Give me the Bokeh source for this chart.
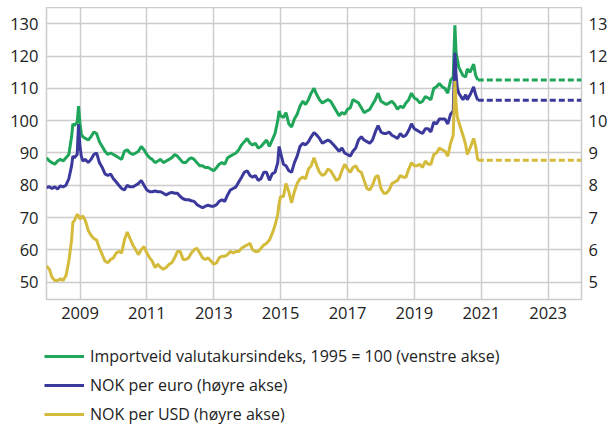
import pandas as pd
from bokeh.plotting import figure
from bokeh.layouts import column
from bokeh.models import (Range1d, LinearAxis, FixedTicker, DatetimeTickFormatter,
                          Legend, LegendItem)
from bokeh.embed import file_html
from bokeh.resources import INLINE

# ---------------- data ----------------
dates = [
    "2008-01-01", "2008-02-01", "2008-03-01", "2008-04-01", "2008-05-01", "2008-06-01",
    "2008-07-01", "2008-08-01", "2008-09-01", "2008-10-01", "2008-10-15", "2008-11-01",
    "2008-12-01", "2008-12-16",
    "2009-01-01", "2009-01-15", "2009-02-01", "2009-03-01", "2009-04-01", "2009-05-01",
    "2009-06-01", "2009-07-01", "2009-08-01", "2009-09-01", "2009-10-01", "2009-11-01",
    "2009-12-01",
    "2010-01-01", "2010-02-01", "2010-03-01", "2010-04-01", "2010-05-01", "2010-06-01",
    "2010-07-01", "2010-08-01", "2010-09-01", "2010-10-01", "2010-11-01", "2010-12-01",
    "2011-01-01", "2011-02-01", "2011-03-01", "2011-04-01", "2011-05-01", "2011-06-01",
    "2011-07-01", "2011-08-01", "2011-09-01", "2011-10-01", "2011-11-01", "2011-12-01",
    "2012-01-01", "2012-02-01", "2012-03-01", "2012-04-01", "2012-05-01", "2012-06-01",
    "2012-07-01", "2012-08-01", "2012-09-01", "2012-10-01", "2012-11-01", "2012-12-01",
    "2013-01-01", "2013-02-01", "2013-03-01", "2013-04-01", "2013-05-01", "2013-06-01",
    "2013-07-01", "2013-08-01", "2013-09-01", "2013-10-01", "2013-11-01", "2013-12-01",
    "2014-01-01", "2014-02-01", "2014-03-01", "2014-04-01", "2014-05-01", "2014-06-01",
    "2014-07-01", "2014-08-01", "2014-09-01", "2014-10-01", "2014-11-01", "2014-12-01",
    "2014-12-16",
    "2015-01-01", "2015-02-01", "2015-03-01", "2015-04-01", "2015-05-01", "2015-06-01",
    "2015-07-01", "2015-08-01", "2015-09-01", "2015-10-01", "2015-11-01", "2015-12-01",
    "2016-01-01", "2016-02-01", "2016-03-01", "2016-04-01", "2016-05-01", "2016-06-01",
    "2016-07-01", "2016-08-01", "2016-09-01", "2016-10-01", "2016-11-01", "2016-12-01",
    "2017-01-01", "2017-02-01", "2017-03-01", "2017-04-01", "2017-05-01", "2017-06-01",
    "2017-07-01", "2017-08-01", "2017-09-01", "2017-10-01", "2017-11-01", "2017-12-01",
    "2018-01-01", "2018-02-01", "2018-03-01", "2018-04-01", "2018-05-01", "2018-06-01",
    "2018-07-01", "2018-08-01", "2018-09-01", "2018-10-01", "2018-11-01", "2018-12-01",
    "2019-01-01", "2019-02-01", "2019-03-01", "2019-04-01", "2019-05-01", "2019-06-01",
    "2019-07-01", "2019-08-01", "2019-09-01", "2019-10-01", "2019-11-01", "2019-12-01",
    "2020-01-01", "2020-02-01", "2020-03-01", "2020-03-19", "2020-04-01", "2020-04-15",
    "2020-05-01", "2020-06-15", "2020-07-15", "2020-08-01", "2020-09-01", "2020-10-10",
    "2020-11-01", "2020-11-24",
]

# Importveid valutakursindeks (1995 = 100), left axis
importveid = [
    88.5, 87.5, 87.0, 86.5, 87.5, 88.0, 87.5, 88.5, 89.5, 95.0, 99.0, 98.5, 99.5, 104.5,
    99.0, 96.0, 95.0, 94.5, 94.0, 95.0, 96.5, 96.0, 93.5, 92.0, 90.5, 89.5, 90.0,
    89.5, 89.0, 88.5, 88.0, 90.5, 91.0, 90.0, 89.5, 90.0, 90.5, 92.0, 91.0,
    89.5, 88.5, 88.0, 87.0, 87.5, 88.0, 87.0, 87.5, 88.0, 88.5, 89.5, 89.0,
    88.0, 87.0, 87.0, 88.0, 88.5, 88.0, 87.0, 86.0, 86.0, 85.5, 85.5, 85.0,
    84.5, 85.5, 86.5, 87.0, 86.5, 88.5, 89.0, 89.5, 90.0, 91.0, 92.5, 93.5,
    94.5, 93.0, 92.5, 93.0, 91.5, 92.0, 93.0, 94.0, 92.0, 94.0, 96.0, 100.0, 103.0,
    101.5, 101.0, 102.5, 99.0, 98.0, 100.5, 102.0, 104.5, 106.0, 105.0, 106.5, 108.5,
    110.0, 108.0, 106.5, 105.5, 106.0, 106.5, 106.0, 104.5, 103.0, 101.5, 102.5, 102.0,
    103.5, 104.0, 106.5, 106.0, 105.5, 104.0, 102.5, 103.0, 103.5, 105.0, 106.5, 108.5,
    106.0, 105.5, 105.0, 105.5, 106.0, 105.0, 103.5, 104.5, 104.0, 105.5, 106.5, 108.5,
    107.0, 106.5, 105.5, 106.0, 107.5, 107.0, 106.5, 110.0, 110.5, 111.5, 110.5, 110.0,
    108.5, 112.5, 113.5, 129.5, 121.0, 119.0, 116.5, 114.0, 113.5, 116.0, 115.0, 117.5,
    114.0, 112.6,
]

# NOK per euro, right axis
nok_eur = [
    7.93, 7.95, 7.90, 7.95, 7.88, 7.98, 7.95, 8.00, 8.20, 8.60, 8.90, 8.85, 8.95, 9.89,
    9.20, 8.90, 8.75, 8.80, 8.70, 8.80, 8.95, 9.00, 8.70, 8.55, 8.35, 8.30, 8.35,
    8.20, 8.10, 8.00, 7.90, 7.85, 8.00, 7.95, 7.95, 8.00, 8.05, 8.15, 8.00,
    7.85, 7.80, 7.80, 7.82, 7.80, 7.80, 7.75, 7.70, 7.75, 7.78, 7.75, 7.75,
    7.65, 7.58, 7.55, 7.55, 7.52, 7.50, 7.40, 7.35, 7.30, 7.35, 7.38, 7.35,
    7.35, 7.40, 7.50, 7.55, 7.50, 7.70, 7.85, 7.90, 7.95, 8.10, 8.25, 8.40,
    8.45, 8.30, 8.25, 8.30, 8.15, 8.20, 8.40, 8.40, 8.15, 8.35, 8.40, 8.70, 9.20,
    9.00, 8.65, 8.60, 8.45, 8.40, 8.70, 8.90, 9.20, 9.30, 9.25, 9.35, 9.50,
    9.63, 9.55, 9.45, 9.30, 9.35, 9.40, 9.35, 9.25, 9.15, 9.05, 9.15, 9.00,
    8.95, 8.90, 9.05, 9.15, 9.40, 9.50, 9.40, 9.35, 9.30, 9.40, 9.65, 9.85,
    9.65, 9.60, 9.60, 9.65, 9.55, 9.50, 9.45, 9.60, 9.50, 9.55, 9.70, 9.90,
    9.75, 9.70, 9.65, 9.60, 9.75, 9.75, 9.65, 9.95, 9.90, 10.05, 10.05, 10.05,
    9.90, 10.20, 10.30, 12.10, 11.40, 11.00, 10.85, 10.65, 10.80, 10.65, 10.80, 11.05,
    10.80, 10.63,
]

# NOK per USD, right axis
nok_usd = [
    5.50, 5.40, 5.15, 5.05, 5.05, 5.10, 5.05, 5.20, 5.65, 6.30, 6.85, 6.90, 7.10, 7.05,
    6.95, 7.00, 7.05, 6.90, 6.60, 6.45, 6.35, 6.30, 6.05, 5.85, 5.65, 5.60, 5.70,
    5.75, 5.90, 5.95, 5.90, 6.30, 6.55, 6.35, 6.15, 6.00, 5.85, 6.00, 6.10,
    5.90, 5.75, 5.65, 5.45, 5.55, 5.45, 5.40, 5.45, 5.55, 5.60, 5.75, 5.95,
    5.95, 5.70, 5.70, 5.75, 5.90, 6.00, 6.05, 5.90, 5.75, 5.70, 5.75, 5.65,
    5.55, 5.60, 5.75, 5.80, 5.80, 5.85, 5.95, 5.90, 5.95, 5.95, 6.05, 6.10,
    6.15, 6.20, 6.00, 5.95, 5.95, 6.05, 6.15, 6.20, 6.30, 6.50, 6.75, 7.10, 7.45,
    7.65, 7.65, 8.05, 7.80, 7.45, 7.80, 8.05, 8.20, 8.25, 8.20, 8.50, 8.60,
    8.85, 8.60, 8.40, 8.30, 8.35, 8.50, 8.45, 8.30, 8.15, 8.20, 8.45, 8.65,
    8.50, 8.40, 8.55, 8.60, 8.45, 8.40, 8.15, 7.90, 7.85, 8.00, 8.25, 8.30,
    7.90, 7.75, 7.75, 7.85, 8.05, 8.10, 8.15, 8.30, 8.25, 8.25, 8.50, 8.70,
    8.60, 8.60, 8.65, 8.55, 8.75, 8.65, 8.65, 8.95, 9.00, 9.15, 9.10, 9.05,
    8.90, 9.30, 9.55, 11.23, 10.50, 10.10, 9.95, 9.55, 9.25, 8.95, 9.15, 9.45,
    9.20, 8.77,
]

# flat assumption (dashed) to end of 2023
proj_dates = ["2020-11-24", "2024-01-01"]
proj_importveid = [112.6, 112.6]
proj_nok_eur = [10.63, 10.63]
proj_nok_usd = [8.77, 8.77]

left_ticks = [50, 60, 70, 80, 90, 100, 110, 120, 130]
right_ticks = [5, 6, 7, 8, 9, 10, 11, 12, 13]
tick_years = [2009, 2011, 2013, 2015, 2017, 2019, 2021, 2023]

labels = [
    "Importveid valutakursindeks, 1995 = 100 (venstre akse)",
    "NOK per euro (høyre akse)",
    "NOK per USD (høyre akse)",
]
colors = ["#1fa65a", "#3b3a9c", "#d4bb3c"]

assert len(dates) == len(importveid) == len(nok_eur) == len(nok_usd)

# ---------------- main chart ----------------
x = pd.to_datetime(dates)
xp = pd.to_datetime(proj_dates)

FONT = "Open Sans"
TXT = "#222222"
GRID = "#cccccc"

p = figure(frame_width=535, frame_height=292, x_axis_type="datetime",
           output_backend="svg", toolbar_location=None,
           x_range=Range1d(pd.Timestamp("2008-01-01"), pd.Timestamp("2024-01-01")),
           y_range=Range1d(44.6, 135.05),
           min_border_left=0, min_border_right=0, min_border_top=0,
           min_border_bottom=0)
p.margin = (7, 0, 0, 7)
p.extra_y_ranges = {"right": Range1d(4.46, 13.505)}

p.background_fill_color = "white"
p.border_fill_color = "white"
p.outline_line_color = GRID
p.outline_line_width = 1.5

xticks = [pd.Timestamp(f"{y}-01-01").timestamp() * 1000 for y in tick_years]
p.xaxis.ticker = FixedTicker(ticks=xticks)
p.xaxis.formatter = DatetimeTickFormatter(years="%Y", months="%Y", days="%Y",
                                          hours="%Y", minutes="%Y", seconds="%Y")
p.yaxis.ticker = FixedTicker(ticks=left_ticks)

raxis = LinearAxis(y_range_name="right", ticker=FixedTicker(ticks=right_ticks))
p.add_layout(raxis, "right")

for ax in p.axis:
    ax.axis_line_color = None
    ax.major_tick_line_color = None
    ax.minor_tick_line_color = None
    ax.major_tick_out = 0
    ax.major_tick_in = 0
    ax.minor_tick_out = 0
    ax.major_label_text_font = FONT
    ax.major_label_text_font_size = "16.5px"
    ax.major_label_text_color = TXT
p.xaxis.major_label_standoff = 7
p.yaxis[0].major_label_standoff = 8
raxis.major_label_standoff = 7

p.xgrid.grid_line_color = GRID
p.xgrid.grid_line_width = 1.5
p.ygrid.grid_line_color = GRID
p.ygrid.grid_line_width = 1.5

lw = 3
p.line(x, importveid, line_color=colors[0], line_width=lw)
p.line(x, nok_eur, line_color=colors[1], line_width=lw, y_range_name="right")
p.line(x, nok_usd, line_color=colors[2], line_width=lw, y_range_name="right")
p.line(xp, proj_importveid, line_color=colors[0], line_width=lw, line_dash="6 3")
p.line(xp, proj_nok_eur, line_color=colors[1], line_width=lw, line_dash="6 3",
       y_range_name="right")
p.line(xp, proj_nok_usd, line_color=colors[2], line_width=lw, line_dash="6 3",
       y_range_name="right")

# ---------------- legend strip below the chart ----------------
pl = figure(frame_width=606, frame_height=104, output_backend="svg",
            toolbar_location=None, x_axis_location=None, y_axis_location=None,
            x_range=Range1d(0, 1), y_range=Range1d(0, 1),
            min_border=0, outline_line_color=None)
pl.xgrid.visible = False
pl.ygrid.visible = False
pl.background_fill_color = "white"
pl.border_fill_color = "white"

# legend keys: the same series, lying outside this strip's visible range
keys = [pl.line(x, vals, line_color=c, line_width=lw)
        for vals, c in zip([importveid, nok_eur, nok_usd], colors)]

legend = Legend(
    items=[LegendItem(label=lab, renderers=[k]) for lab, k in zip(labels, keys)],
    location=(44, 0), orientation="vertical",
    label_text_font=FONT, label_text_font_size="16px", label_text_color=TXT,
    glyph_width=40, glyph_height=22, label_height=22, label_standoff=6,
    spacing=7, padding=0, margin=0,
    border_line_color=None, background_fill_alpha=0,
)
pl.add_layout(legend, "center")

layout = column(p, pl)

open("out.html", "w").write(file_html(layout, INLINE))
